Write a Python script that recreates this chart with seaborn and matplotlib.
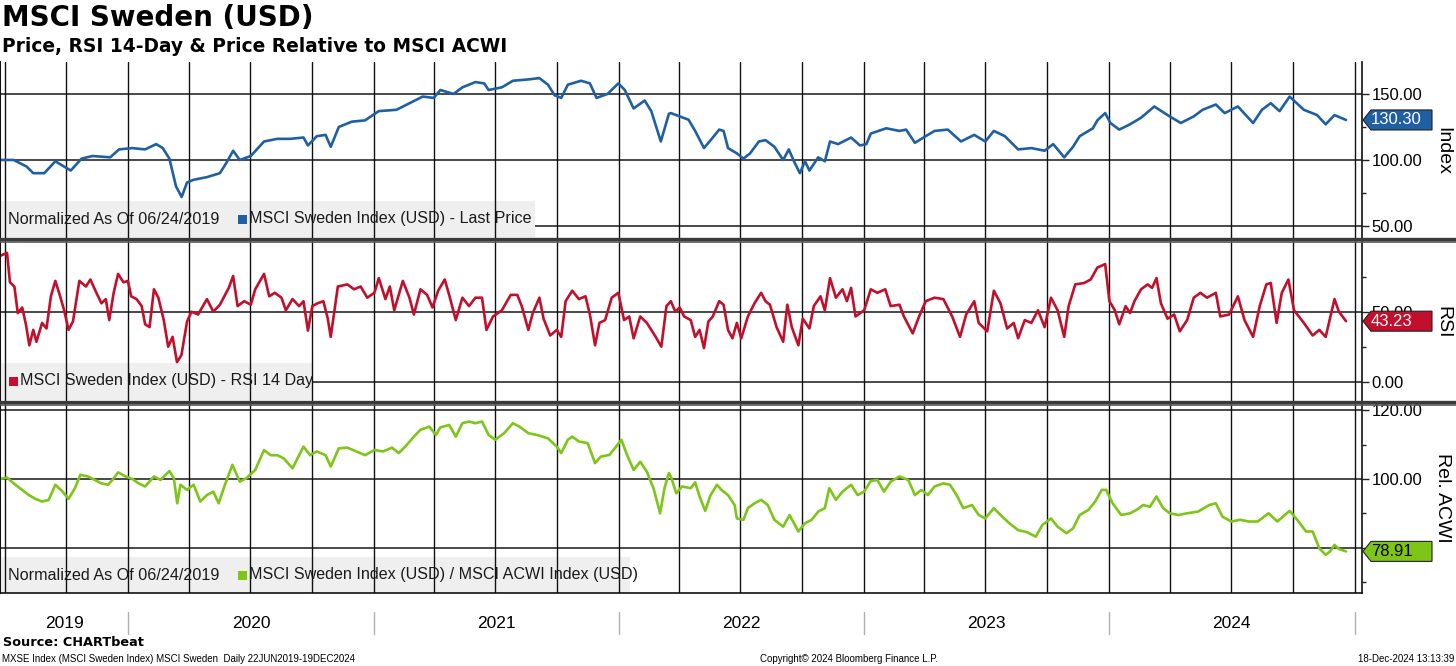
import matplotlib
matplotlib.use("Agg")
import numpy as np
import pandas as pd
import matplotlib.pyplot as plt
import matplotlib.dates as mdates
import matplotlib.ticker as mticker
import matplotlib.transforms as mtransforms
from matplotlib.patches import Rectangle, Polygon
from matplotlib.lines import Line2D
import seaborn as sns

# --- data (time as decimal year) ---
price_time = [2019.478, 2019.532, 2019.585, 2019.612, 2019.657, 2019.702, 2019.747, 2019.765, 2019.809, 2019.854,
              2019.926, 2019.962, 2020.016, 2020.069, 2020.114, 2020.141, 2020.168, 2020.195, 2020.218, 2020.240,
              2020.267, 2020.321, 2020.374, 2020.401, 2020.428, 2020.455, 2020.500, 2020.554, 2020.608, 2020.661,
              2020.715, 2020.733, 2020.769, 2020.805, 2020.826, 2020.859, 2020.912, 2020.966, 2021.020, 2021.092,
              2021.145, 2021.199, 2021.244, 2021.271, 2021.325, 2021.361, 2021.414, 2021.450, 2021.468, 2021.522,
              2021.567, 2021.630, 2021.675, 2021.710, 2021.737, 2021.764, 2021.791, 2021.845, 2021.881, 2021.908,
              2021.953, 2021.997, 2022.024, 2022.060, 2022.105, 2022.132, 2022.171, 2022.204,
              2022.212, 2022.248, 2022.284, 2022.311, 2022.347, 2022.383, 2022.409, 2022.427, 2022.445, 2022.481,
              2022.508, 2022.535, 2022.571, 2022.598, 2022.634, 2022.670, 2022.693, 2022.714, 2022.738, 2022.759,
              2022.777, 2022.813, 2022.840, 2022.861, 2022.894, 2022.947, 2022.983, 2023.010, 2023.028, 2023.091,
              2023.145, 2023.172, 2023.208, 2023.243, 2023.288, 2023.342, 2023.396, 2023.450, 2023.495, 2023.530,
              2023.575, 2023.629, 2023.683, 2023.737, 2023.772, 2023.817, 2023.853, 2023.880, 2023.934, 2023.952,
              2023.984, 2024.006, 2024.042, 2024.086, 2024.131, 2024.185, 2024.239, 2024.293, 2024.346, 2024.382,
              2024.436, 2024.472, 2024.526, 2024.588, 2024.624, 2024.660, 2024.696, 2024.737, 2024.795, 2024.849,
              2024.884, 2024.920, 2024.967]
price_value = [100, 100, 95, 90, 90, 99, 94, 92, 101, 103,
               102, 108, 109, 108, 112, 109, 101, 80, 72, 83,
               85, 87, 90, 98, 107, 100, 103, 114, 116, 116,
               117, 111, 118, 119, 110, 125, 129, 130, 137, 138,
               143, 148, 147, 153, 150, 155, 159, 158, 153, 155,
               160, 161, 162, 157, 149, 147, 157, 160, 158, 147,
               150, 158, 153, 139, 145, 137, 114, 135,
               135.5, 133, 130.5, 122, 109, 117, 123, 122, 109, 105,
               101, 105, 114, 115, 110, 100, 108, 99, 90, 99,
               92, 102, 99, 114, 112, 117, 111, 112, 120, 124,
               122, 123, 113, 117, 122, 123, 114, 119, 114, 122,
               118, 108, 109, 107, 112, 102, 110, 118, 124, 130,
               135.5, 128, 123, 127, 132, 140.5, 134, 128, 133, 138,
               142, 135.5, 140.5, 128, 138, 143, 137, 148, 138, 134,
               127, 134, 130.30]

rsi_time = [2019.478, 2019.505, 2019.517, 2019.535, 2019.549, 2019.567, 2019.582, 2019.596, 2019.612, 2019.625,
            2019.648, 2019.666, 2019.684, 2019.702, 2019.720, 2019.738, 2019.756, 2019.774, 2019.800, 2019.827,
            2019.845, 2019.863, 2019.890, 2019.908, 2019.922, 2019.940, 2019.958, 2019.980, 2019.998, 2020.012,
            2020.034, 2020.055, 2020.069, 2020.087, 2020.105, 2020.123, 2020.145, 2020.163, 2020.181, 2020.199,
            2020.217, 2020.240, 2020.258, 2020.285, 2020.321, 2020.347, 2020.374, 2020.392, 2020.410, 2020.428,
            2020.446, 2020.473, 2020.500, 2020.518, 2020.554, 2020.575, 2020.598, 2020.625, 2020.643, 2020.670,
            2020.697, 2020.715, 2020.733, 2020.751, 2020.772, 2020.796, 2020.814, 2020.826, 2020.855, 2020.894,
            2020.921, 2020.948, 2020.975, 2021.002, 2021.020, 2021.047, 2021.065, 2021.083, 2021.118, 2021.145,
            2021.163, 2021.190, 2021.217, 2021.239, 2021.262, 2021.289, 2021.307, 2021.334, 2021.361, 2021.388,
            2021.414, 2021.441, 2021.459, 2021.486, 2021.522, 2021.558, 2021.585, 2021.603, 2021.630, 2021.648,
            2021.675, 2021.692, 2021.719, 2021.746, 2021.764, 2021.782, 2021.809, 2021.836, 2021.863, 2021.881,
            2021.902, 2021.920, 2021.943, 2021.970, 2021.997, 2022.021, 2022.042, 2022.060, 2022.087, 2022.114,
            2022.150, 2022.173, 2022.194,
            2022.212, 2022.230, 2022.248, 2022.266, 2022.293, 2022.311, 2022.329, 2022.347, 2022.365, 2022.383,
            2022.409, 2022.427, 2022.445, 2022.463, 2022.481, 2022.499, 2022.526, 2022.553, 2022.580, 2022.598,
            2022.616, 2022.643, 2022.670, 2022.687, 2022.705, 2022.732, 2022.750, 2022.777, 2022.795, 2022.822,
            2022.840, 2022.861, 2022.885, 2022.912, 2022.930, 2022.947, 2022.965, 2023.001, 2023.028, 2023.055,
            2023.087, 2023.109, 2023.145, 2023.163, 2023.199, 2023.225, 2023.252, 2023.288, 2023.324, 2023.360,
            2023.392, 2023.417, 2023.450, 2023.468, 2023.503, 2023.530, 2023.557, 2023.584, 2023.611, 2023.629,
            2023.656, 2023.683, 2023.710, 2023.737, 2023.763, 2023.790, 2023.817, 2023.835, 2023.862, 2023.898,
            2023.925, 2023.952, 2023.984, 2024.002, 2024.024, 2024.042, 2024.068, 2024.086, 2024.104, 2024.131,
            2024.158, 2024.176, 2024.194, 2024.212, 2024.239, 2024.266, 2024.289, 2024.319, 2024.346, 2024.373,
            2024.400, 2024.436, 2024.454, 2024.490, 2024.526, 2024.553, 2024.588, 2024.615, 2024.642, 2024.660,
            2024.684, 2024.705, 2024.732, 2024.755, 2024.795, 2024.831, 2024.858, 2024.884, 2024.920, 2024.938,
            2024.967]
rsi_value = [90, 92, 71, 68, 49, 53, 41, 26, 37, 28.5,
             42, 38, 61, 72, 62, 51, 37, 43, 72, 68,
             73, 66, 56, 59, 44, 63.5, 77, 71, 72, 61,
             59, 54, 41, 39, 66, 60, 44, 25, 32, 14,
             19, 43, 50, 48, 59, 50, 55, 61, 67, 75.5,
             54, 57.5, 55, 66, 77, 61, 63.5, 60, 51, 59,
             54, 57.5, 36.5, 54, 56, 57.5, 45, 32, 68, 69.5,
             66, 68, 60, 63.5, 74, 59, 68, 51, 72, 60,
             48, 66, 62, 53, 65, 73, 62, 44, 60, 54,
             60, 60, 37, 46.6, 51, 62, 62, 54, 37, 49,
             60, 45, 33, 37, 32, 57.5, 65, 59, 61, 48,
             26, 42, 44, 60, 63.5, 44, 46.6, 31, 46.6, 42,
             32, 25, 54,
             57.5, 50, 53, 46.6, 44, 32, 37, 24, 43, 46.6,
             57.5, 55, 37, 31, 42, 31, 46.6, 56, 63.5, 57.5,
             55, 39, 28.5, 55, 39, 26, 45, 38, 54, 61,
             51, 74, 60, 66, 57.5, 67, 46.6, 51, 66, 63.5,
             66, 54, 55, 46.6, 34.5, 46.6, 57.5, 60, 59, 46.6,
             32, 48, 57.5, 42, 36, 65, 56, 38, 42, 31,
             44, 42, 51, 39, 60, 51, 32, 54, 69.5, 70.5,
             73, 81.5, 84, 57.5, 51, 41, 54, 49, 57.5, 66,
             69.5, 67, 74, 56, 45, 48, 36, 44, 60, 63.5,
             60, 63.5, 46.6, 48, 61, 44, 32, 54, 69.5, 70.5,
             42, 63.5, 73, 51, 42, 33, 37, 32, 59, 50,
             43.23]

rel_time = [2019.478, 2019.505, 2019.532, 2019.567, 2019.594, 2019.621, 2019.648, 2019.675, 2019.702, 2019.729,
            2019.756, 2019.782, 2019.804, 2019.836, 2019.863, 2019.890, 2019.917, 2019.935, 2019.958, 2019.989,
            2020.016, 2020.043, 2020.069, 2020.105, 2020.132, 2020.168, 2020.186, 2020.200, 2020.213, 2020.240,
            2020.267, 2020.294, 2020.321, 2020.347, 2020.369, 2020.392, 2020.425, 2020.455, 2020.482, 2020.518,
            2020.554, 2020.581, 2020.608, 2020.634, 2020.670, 2020.697, 2020.715, 2020.742, 2020.769, 2020.805,
            2020.826, 2020.859, 2020.894, 2020.930, 2020.966, 2021.002, 2021.038, 2021.074, 2021.101, 2021.128,
            2021.163, 2021.190, 2021.226, 2021.253, 2021.271, 2021.307, 2021.334, 2021.361, 2021.388, 2021.414,
            2021.441, 2021.468, 2021.495, 2021.531, 2021.567, 2021.594, 2021.630, 2021.665, 2021.710, 2021.746,
            2021.764, 2021.791, 2021.809, 2021.836, 2021.872, 2021.902, 2021.926, 2021.961, 2021.988, 2022.010,
            2022.033, 2022.060, 2022.087, 2022.114, 2022.141, 2022.168, 2022.186, 2022.204,
            2022.212, 2022.234, 2022.257, 2022.293, 2022.311, 2022.329, 2022.352, 2022.374, 2022.400, 2022.418,
            2022.445, 2022.472, 2022.481, 2022.508, 2022.526, 2022.553, 2022.580, 2022.607, 2022.634, 2022.670,
            2022.696, 2022.732, 2022.759, 2022.786, 2022.813, 2022.840, 2022.858, 2022.885, 2022.912, 2022.947,
            2022.974, 2023.001, 2023.028, 2023.055, 2023.082, 2023.109, 2023.145, 2023.181, 2023.208, 2023.234,
            2023.261, 2023.288, 2023.324, 2023.351, 2023.378, 2023.405, 2023.441, 2023.468, 2023.495, 2023.530,
            2023.557, 2023.593, 2023.629, 2023.665, 2023.701, 2023.728, 2023.763, 2023.790, 2023.826, 2023.853,
            2023.880, 2023.916, 2023.943, 2023.970, 2023.988, 2024.015, 2024.050, 2024.086, 2024.113, 2024.140,
            2024.167, 2024.194, 2024.221, 2024.248, 2024.284, 2024.319, 2024.364, 2024.409, 2024.436, 2024.463,
            2024.499, 2024.535, 2024.571, 2024.607, 2024.651, 2024.687, 2024.737, 2024.768, 2024.804, 2024.831,
            2024.858, 2024.884, 2024.902, 2024.920, 2024.938, 2024.967]
rel_value = [100, 100.4, 98.7, 96.8, 95.3, 94.2, 93.4, 93.9, 98.3, 96.5,
             94.2, 97.3, 101.2, 100.7, 99.7, 98.7, 98.3, 99.7, 101.9, 100.7,
             100, 98.7, 97.8, 100.7, 99.7, 102.3, 100.2, 92.9, 98.3, 96.8,
             98.3, 93.4, 95.3, 96.3, 92.9, 97.8, 104.1, 99.2, 100.2, 102.6,
             108.4, 106.9, 106.9, 106, 103.1, 106.9, 109.4, 106.9, 108, 106.9,
             103.6, 108.9, 109.1, 108, 106.9, 108.4, 108, 109.1, 107.5, 109.4,
             112.3, 114.3, 115.2, 112.8, 115, 115.7, 112.3, 116.2, 116.7, 116.2,
             116.7, 112.8, 111.4, 113.3, 116.2, 115.2, 113.3, 112.8, 111.8, 109.4,
             107.5, 111.4, 112.3, 110.9, 110.4, 104.6, 106.5, 107, 109.4, 111.4,
             107, 102.6, 105, 102.1, 97.3, 90, 97.3, 101.7,
             100.7, 95.8, 97.8, 97.3, 99, 94.9, 90.7, 95.3, 98.3, 96.8,
             95.3, 92.4, 88.5, 88.1, 91.5, 92.9, 93.9, 92.4, 88.1, 86.1,
             89.5, 84.7, 87.1, 88.1, 90.5, 91.5, 97.3, 93.9, 96.3, 98.3,
             95.3, 96.3, 99.4, 99.7, 96.3, 99.2, 100.7, 99.7, 95.3, 96.8,
             95.3, 97.8, 98.7, 98.3, 95.3, 91.5, 92.4, 89.5, 88.5, 91.5,
             89.5, 87.1, 85.1, 84.5, 83.2, 86.6, 88.5, 86.1, 84.2, 85.6,
             89.5, 91, 93.4, 96.8, 96.8, 92.9, 89.5, 90, 91, 92.4,
             91.9, 94.9, 91.5, 90, 89.5, 90, 90.5, 92.4, 92.9, 89,
             87.6, 88.1, 87.6, 87.6, 90, 87.6, 90.7, 88.1, 84.7, 84.7,
             79.8, 77.9, 78.9, 80.8, 79.6, 78.91]

years = ["2019", "2020", "2021", "2022", "2023", "2024"]

price_label = "MSCI Sweden Index (USD) - Last Price"
rsi_label = "MSCI Sweden Index (USD) - RSI 14 Day"
rel_label = "MSCI Sweden Index (USD) / MSCI ACWI Index (USD)"
norm_note = "Normalized As Of 06/24/2019"

BLUE = "#1f5fa3"
RED = "#c20f2c"
GREEN = "#7dc618"


def to_dates(values):
    out = []
    for v in values:
        yr = int(v)
        out.append(pd.Timestamp(year=yr, month=1, day=1) + pd.Timedelta(days=(v - yr) * 365.25))
    return pd.DatetimeIndex(out)


price_df = pd.DataFrame({"date": to_dates(price_time), "value": price_value})
rsi_df = pd.DataFrame({"date": to_dates(rsi_time), "value": rsi_value})
rel_df = pd.DataFrame({"date": to_dates(rel_time), "value": rel_value})

sns.set_style("white")
plt.rcParams['font.family'] = ['Liberation Sans', 'DejaVu Sans']
plt.rcParams['text.color'] = 'black'

W_PX, H_PX = 1456, 666
fig = plt.figure(figsize=(W_PX / 100, H_PX / 100), dpi=100)


def fx(px):
    return px / W_PX


def fy(px):
    return 1 - px / H_PX


AX_L, AX_R = 0, 1362
x_min, x_max = pd.Timestamp("2019-06-24"), pd.Timestamp("2025-01-12")


def make_axes(top_px, bottom_px):
    return fig.add_axes([fx(AX_L), fy(bottom_px), fx(AX_R) - fx(AX_L), (bottom_px - top_px) / H_PX])


ax_p = make_axes(62, 238)
ax_r = make_axes(241, 402)
ax_g = make_axes(404, 593)

panels = [
    (ax_p, price_df, BLUE, (40.9, 174.2), [50, 100, 150], [75, 125]),
    (ax_r, rsi_df, RED, (-14.5, 100.5), [0, 50], [25, 75]),
    (ax_g, rel_df, GREEN, (66.8, 121.8), [80, 100, 120], [70, 90, 110]),
]

for ax, df, color, ylim, major, minor in panels:
    ax.set_axisbelow(True)
    sns.lineplot(data=df, x="date", y="value", ax=ax, color=color, lw=1.9)
    ax.set_xlim(x_min, x_max)
    ax.set_ylim(*ylim)
    ax.set_xlabel("")
    ax.set_ylabel("")
    ax.yaxis.tick_right()
    ax.yaxis.set_major_locator(mticker.FixedLocator(major))
    ax.yaxis.set_minor_locator(mticker.FixedLocator(minor))
    ax.yaxis.set_major_formatter(mticker.FormatStrFormatter("%.2f"))
    ax.tick_params(axis="y", which="major", length=5, width=1, color="#222",
                   labelsize=12, pad=2, labelcolor="black")
    ax.tick_params(axis="y", which="minor", length=3, width=1, color="#222")
    ax.xaxis.set_major_locator(mdates.MonthLocator(bymonth=[1, 4, 7, 10]))
    ax.xaxis.set_minor_locator(mdates.MonthLocator())
    ax.grid(axis="x", which="major", color="#111111", lw=1.0)
    for v in major:
        ax.axhline(v, color="#3a3a3a", lw=1.3, zorder=0.2)
    for side in ["top", "bottom"]:
        ax.spines[side].set_visible(False)
    ax.spines["left"].set_color("#111")
    ax.spines["left"].set_linewidth(1.5)
    ax.spines["right"].set_color("#111")
    ax.spines["right"].set_linewidth(1.2)
    ax.tick_params(axis="x", which="both", length=0, labelbottom=False)

ax_g.spines["bottom"].set_visible(True)
ax_g.spines["bottom"].set_color("#111")
ax_g.spines["bottom"].set_linewidth(1.2)
ax_g.tick_params(axis="x", which="both", length=5, width=1, color="#222",
                 direction="out", labelbottom=False)

# separators between panels, across the full width
for y_px, lw, col in [(238.5, 2.4, "#3a3a3a"), (241.5, 1.2, "#555555"),
                      (401.5, 2.4, "#3a3a3a"), (404.5, 1.2, "#555555")]:
    fig.add_artist(Line2D([0, 1], [fy(y_px)] * 2, lw=lw, color=col, transform=fig.transFigure))

# legend boxes
legends = [
    (ax_p, 535, 201, 237, 219, norm_note, 238, price_label, BLUE),
    (ax_r, 312, 363, 400, 381, None, 9, rsi_label, RED),
    (ax_g, 630, 557, 593, 575, norm_note, 238, rel_label, GREEN),
]
for ax, right, top, bottom, yc, note, mx, label, color in legends:
    ax.add_patch(Rectangle((fx(0), fy(bottom)), fx(right), (bottom - top) / H_PX,
                           transform=fig.transFigure, facecolor="#efefef", edgecolor="none", zorder=0.3))
    if note:
        ax.text(fx(8), fy(yc), note, transform=fig.transFigure, fontsize=11.6,
                va="center", ha="left", color="#1a1a1a", zorder=3)
    ax.add_patch(Rectangle((fx(mx), fy(yc + 4.5)), fx(9), 9 / H_PX, transform=fig.transFigure,
                           facecolor=color, edgecolor="none", zorder=3))
    ax.text(fx(mx + 11), fy(yc), label, transform=fig.transFigure, fontsize=11.6,
            va="center", ha="left", color="#1a1a1a", zorder=3)

# last value tags
inv = fig.transFigure.inverted()
for ax, df, face, tcol in [(ax_p, price_df, BLUE, "white"), (ax_r, rsi_df, RED, "white"),
                           (ax_g, rel_df, GREEN, "black")]:
    last = df["value"].iloc[-1]
    yf = inv.transform(ax.transData.transform((mdates.date2num(x_min), last)))[1]
    hh = 10 / H_PX
    pts = [(fx(1363), yf), (fx(1371), yf - hh), (fx(1432), yf - hh), (fx(1432), yf + hh), (fx(1371), yf + hh)]
    fig.add_artist(Polygon(pts, closed=True, transform=fig.transFigure, facecolor=face,
                           edgecolor="#222", lw=0.8))
    fig.text(fx(1371), yf, f"{last:.2f}", color=tcol, fontsize=12, va="center", ha="left")

# axis names on the right
for text, y_px in [("Index", 151), ("RSI", 322), ("Rel. ACWI", 498)]:
    fig.text(fx(1443), fy(y_px), text, rotation=-90, fontsize=14, va="center", ha="center")

# year labels and separators below the bottom panel
blend = mtransforms.blended_transform_factory(ax_g.transData, fig.transFigure)
for y in years:
    start = max(pd.Timestamp(f"{y}-01-01"), x_min)
    end = pd.Timestamp(f"{int(y) + 1}-01-01")
    mid = start + (end - start) / 2
    ax_g.text(mdates.date2num(mid), fy(623), y, transform=blend, fontsize=12.5,
              ha="center", va="center", clip_on=False)
    sep = mdates.date2num(end)
    ax_g.add_line(Line2D([sep, sep], [fy(612), fy(634)], transform=blend, color="#b0b0b0",
                         lw=1, clip_on=False))

# titles and footer
fig.text(fx(2), fy(18), "MSCI Sweden (USD)", fontsize=20, fontweight="bold",
         family="DejaVu Sans", va="center", ha="left")
fig.text(fx(2), fy(46), "Price, RSI 14-Day & Price Relative to MSCI ACWI", fontsize=13.4,
         fontweight="bold", family="DejaVu Sans", va="center", ha="left")
fig.text(fx(3), fy(643), "Source: CHARTbeat", fontsize=9.3, fontweight="bold",
         family="DejaVu Sans", va="center", ha="left")
fig.text(fx(2), fy(659), "MXSE Index (MSCI Sweden Index) MSCI Sweden  Daily 22JUN2019-19DEC2024",
         fontsize=7, va="center", ha="left")
fig.text(fx(760), fy(659), "Copyright\u00a9 2024 Bloomberg Finance L.P.", fontsize=7, va="center", ha="left")
fig.text(fx(1454), fy(659), "18-Dec-2024 13:13:39", fontsize=7, va="center", ha="right")

fig.savefig("out.png", dpi=100)
